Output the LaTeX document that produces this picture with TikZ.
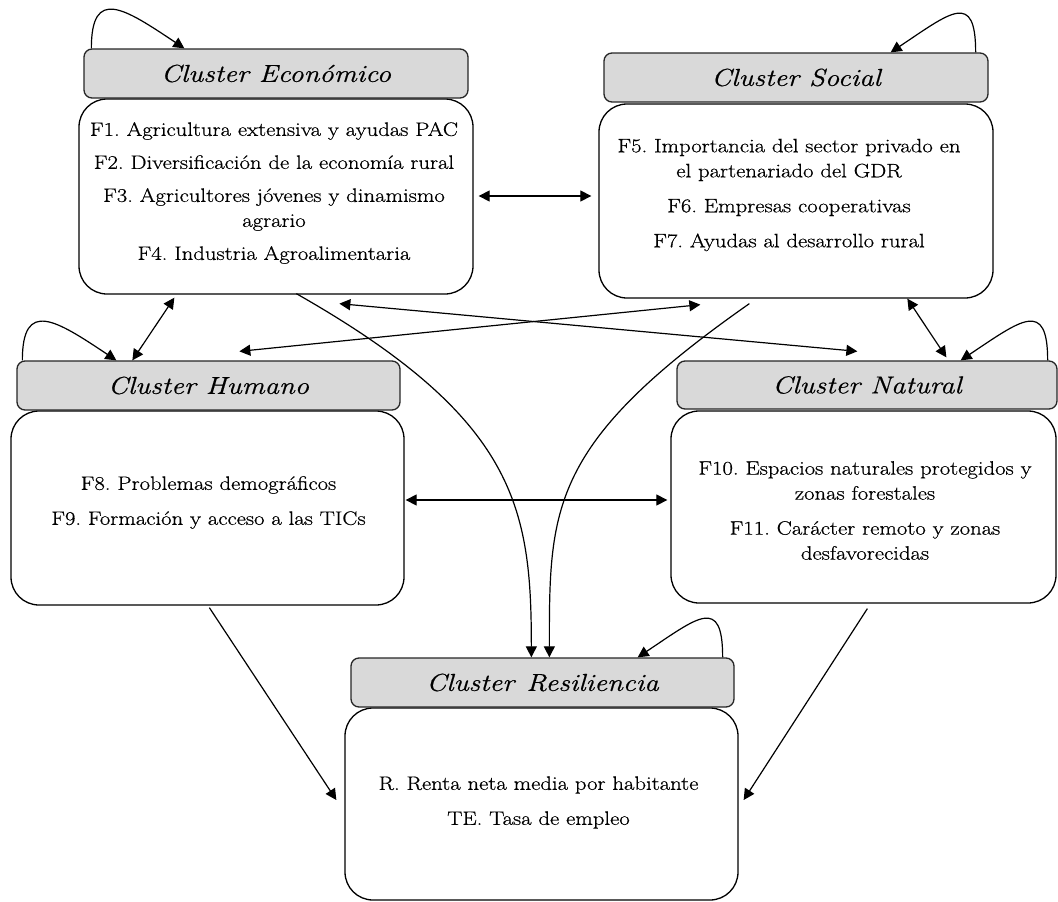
\documentclass[tikz,border=0pt]{standalone}
\usepackage{fontspec}
\setmainfont{Latin Modern Roman}[FakeStretch=1.17, FakeBold=0.6]
\usetikzlibrary{arrows.meta}

\begin{document}
\frenchspacing
\begin{tikzpicture}[x=1pt,y=1pt,
  header/.style={draw=black!85, line width=1.3pt, fill=black!15, rounded corners=8pt,
    minimum height=49pt, inner sep=0pt, font=\fontsize{24.5}{28}\selectfont\itshape},
  panel/.style={draw=black, line width=1.3pt, rounded corners=28pt, inner sep=0pt},
  items/.style={align=center, inner sep=0pt, font=\fontsize{19.4}{25}\selectfont},
  link/.style={line width=1.2pt, -{Triangle[length=11pt,width=11pt]}},
  both/.style={line width=1.2pt, {Triangle[length=11pt,width=11pt]}-{Triangle[length=11pt,width=11pt]}}
]
\useasboundingbox (0,0) rectangle (1058,-902);

% ---- cluster panels ----
\node[panel, minimum width=394pt, minimum height=195pt] (eb) at (276,-196.5) {};
\node[header, minimum width=384pt] (eh) at (276,-73.5) {Cluster Económico};

\node[panel, minimum width=394pt, minimum height=194pt] (sb) at (796,-201) {};
\node[header, minimum width=384pt] (sh) at (796,-77.5) {Cluster Social};

\node[panel, minimum width=393pt, minimum height=194pt] (hb) at (207.5,-508) {};
\node[header, minimum width=383pt] (hh) at (208.5,-385.5) {Cluster Humano};

\node[panel, minimum width=385pt, minimum height=192pt] (nb) at (863.5,-507) {};
\node[header, minimum width=380pt, minimum height=48pt] (nh) at (867,-385) {Cluster Natural};

\node[panel, minimum width=393pt, minimum height=192pt] (rb) at (541.5,-804) {};
\node[header, minimum width=383pt] (rh) at (542.5,-682.5) {Cluster\hspace{0.5em}Resiliencia};

% ---- factor lists ----
\node[items] (et) at (274,-193) {F1. Agricultura extensiva y ayudas PAC\\[8pt]
  F2. Diversificación de la economía rural\\[8pt]
  F3. Agricultores jóvenes y dinamismo\\ agrario\\[8pt]
  F4. Industria Agroalimentaria};
\node[items] (st) at (789,-195) {F5. Importancia del sector privado en\\ el partenariado del GDR\\[10pt]
  F6. Empresas cooperativas\\[10pt]
  F7. Ayudas al desarrollo rural};
\node[items] (ht) at (208.5,-502.5) {F8. Problemas demográficos\\[10pt]
  F9. Formación y acceso a las TICs};
\node[items] (nt) at (865,-510.5) {F10. Espacios naturales protegidos y\\ zonas forestales\\[10pt]
  F11. Carácter remoto y zonas\\ desfavorecidas};
\node[items] (rt) at (538.5,-802.5) {R. Renta neta media por habitante\\[10pt]
  TE. Tasa de empleo};

% ---- self loops ----
\draw[link] ([xshift=8pt]eh.north west) .. controls +(0,62) and +(-60,40) .. ([xshift=101pt]eh.north west);
\draw[link] ([xshift=-13pt]sh.north east) .. controls +(0,62) and +(60,40) .. ([xshift=-98pt]sh.north east);
\draw[link] ([xshift=6pt]hh.north west) .. controls +(0,62) and +(-60,40) .. ([xshift=100pt]hh.north west);
\draw[link] ([xshift=-10pt]nh.north east) .. controls +(0,62) and +(60,40) .. ([xshift=-97pt]nh.north east);
\draw[link] ([xshift=-12pt]rh.north east) .. controls +(0,62) and +(60,40) .. ([xshift=-97pt]rh.north east);

% ---- mutual links ----
\draw[both] ([xshift=5pt,yshift=0.5pt]eb.east) -- ([xshift=-7pt,yshift=5pt]sb.west);
\draw[both] ([xshift=96pt,yshift=-3pt]eb.south west) -- ([xshift=116pt]hh.north west);
\draw[both] ([xshift=223pt,yshift=9pt]hh.north west) -- ([xshift=102pt,yshift=-6pt]sb.south west);
\draw[both] ([xshift=261pt,yshift=-9pt]eb.south west) -- ([xshift=181pt,yshift=9pt]nh.north west);
\draw[both] ([xshift=309pt]sb.south west) -- ([xshift=270pt,yshift=3pt]nh.north west);
\draw[both] ([xshift=1pt,yshift=8pt]hb.east) -- ([xshift=-3pt,yshift=7pt]nb.west);

% ---- links into resilience ----
\draw[link] ([xshift=199pt,yshift=-2pt]hb.south west) -- ([xshift=-8pt,yshift=4pt]rb.west);
\draw[link] ([xshift=197pt,yshift=-5pt]nb.south west) -- ([xshift=5pt,yshift=4pt]rb.east);
\draw[link] ([xshift=218pt,yshift=1pt]eb.south west) .. controls +(220,-125) and +(0,150) .. ([xshift=181pt]rh.north west);
\draw[link] ([xshift=151pt,yshift=-5pt]sb.south west) .. controls +(-200,-140) and +(0,150) .. ([xshift=199pt]rh.north west);
\end{tikzpicture}
\end{document}
